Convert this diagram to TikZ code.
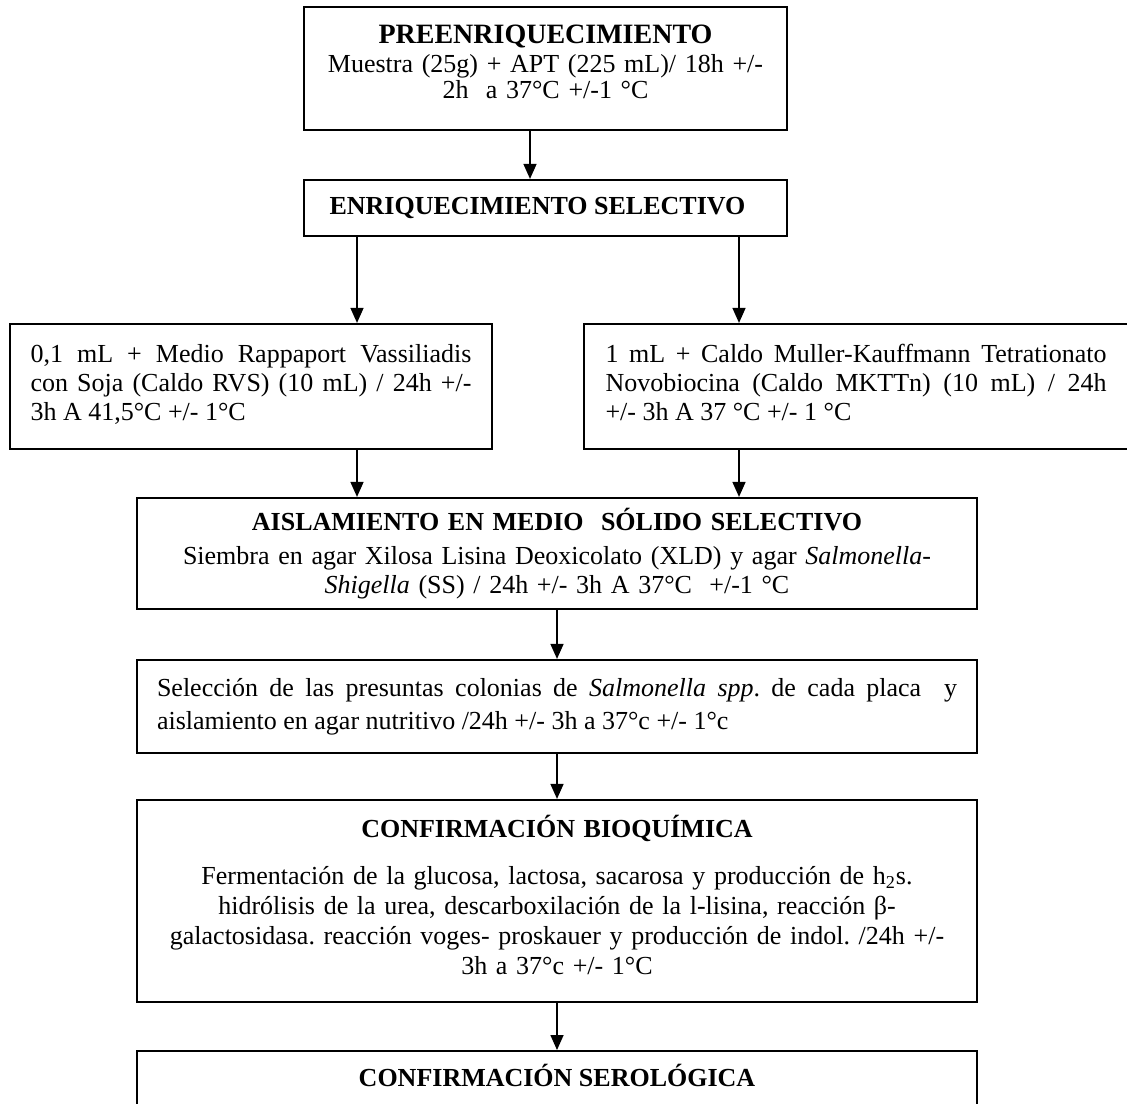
\documentclass[tikz,border=0pt]{standalone}
\usepackage{fontspec}
\setmainfont{Liberation Serif}
\usetikzlibrary{arrows.meta}
\hyphenpenalty=10000
\frenchspacing

\begin{document}
\begin{tikzpicture}[x=0.5pt,y=-0.5pt,
    caja/.style={draw,line width=1.1pt,inner sep=0pt,
        font=\fontsize{13pt}{14.5pt}\selectfont},
    flecha/.style={line width=0.75pt,-{Triangle[width=6.5pt,length=7.5pt]}}]
  \useasboundingbox (0,0) rectangle (1127,1103);
  \clip (0,0) rectangle (1127,1103);
  % columnas de las flechas
  \coordinate (colA) at (357,0);
  \coordinate (colB) at (739,0);
  \coordinate (colC) at (530,0);
  \coordinate (colD) at (557,0);
  % cajas
  \node[caja,minimum width=241.5pt,minimum height=61.5pt,text width=228pt,align=center] (pre) at (545.5,68.5)
    {{\fontsize{14pt}{14.5pt}\selectfont\textbf{PREENRIQUECIMIENTO}}\\ Muestra (25g) + APT (225 mL)/ 18h +/-\\[-1.5pt] 2h\ \ a 37°C +/-1 °C\\[-8pt]\mbox{}};
  \node[caja,minimum width=241.5pt,minimum height=28pt] (enr) at (545.5,208)
    {\textbf{ENRIQUECIMIENTO SELECTIVO}\kern8pt};
  \node[caja,minimum width=241pt,minimum height=62.5pt,text width=220.5pt,align=justify] (rvs) at (251,386.5)
    {0,1 mL + Medio Rappaport Vassiliadis\linebreak con Soja (Caldo RVS) (10 mL) / 24h +/-\linebreak 3h A 41,5°C +/- 1°C\\[-10pt]\mbox{}};
  \node[caja,minimum width=272pt,minimum height=62.5pt,text width=250.5pt,align=justify] (mkt) at (856,386.5)
    {1 mL + Caldo Muller-Kauffmann Tetrationato\linebreak Novobiocina (Caldo MKTTn) (10 mL) / 24h\linebreak +/- 3h A 37 °C +/- 1 °C\\[-10pt]\mbox{}};
  \node[caja,minimum width=420pt,minimum height=55.5pt,text width=405pt,align=center] (ais) at (557,553.5)
    {\textbf{AISLAMIENTO EN MEDIO\ \ SÓLIDO SELECTIVO}\\[2.5pt]
     Siembra en agar Xilosa Lisina Deoxicolato (XLD) y agar \textit{Salmonella-}\\
     \textit{Shigella} (SS) / 24h +/- 3h A 37°C\ \ +/-1 °C};
  \node[caja,minimum width=420pt,minimum height=46.5pt,text width=400pt,align=justify,
        font=\fontsize{13pt}{16.5pt}\selectfont] (sel) at (557,706.5)
    {Selección de las presuntas colonias de \textit{Salmonella spp}. de cada placa\ \ y\linebreak
     aislamiento en agar nutritivo /24h +/- 3h a 37°c +/- 1°c};
  \node[caja,minimum width=420pt,minimum height=101pt,text width=412pt,align=center,
        font=\fontsize{13pt}{15pt}\selectfont] (bioq) at (557,901)
    {\textbf{CONFIRMACIÓN BIOQUÍMICA}\\[8.5pt]
     Fermentación de la glucosa, lactosa, sacarosa y producción de h\textsubscript{2}s.\\
     hidrólisis de la urea, descarboxilación de la l-lisina, reacción β-\\
     galactosidasa. reacción voges- proskauer y producción de indol. /24h +/-\\
     3h a 37°c +/- 1°C\\[-9pt]\mbox{}};
  \node[caja,anchor=north,minimum width=420pt,inner ysep=7.5pt,text height=10pt,text depth=60pt] (sero) at (557,1050)
    {\textbf{CONFIRMACIÓN SEROLÓGICA}};
  % flechas
  \draw[flecha] (pre.south -| colC) -- (enr.north -| colC);
  \draw[flecha] (enr.south -| colA) -- (rvs.north -| colA);
  \draw[flecha] (enr.south -| colB) -- (mkt.north -| colB);
  \draw[flecha] (rvs.south -| colA) -- (ais.north -| colA);
  \draw[flecha] (mkt.south -| colB) -- (ais.north -| colB);
  \draw[flecha] (ais.south -| colD) -- (sel.north -| colD);
  \draw[flecha] (sel.south -| colD) -- (bioq.north -| colD);
  \draw[flecha] (bioq.south -| colD) -- (sero.north -| colD);
\end{tikzpicture}
\end{document}
